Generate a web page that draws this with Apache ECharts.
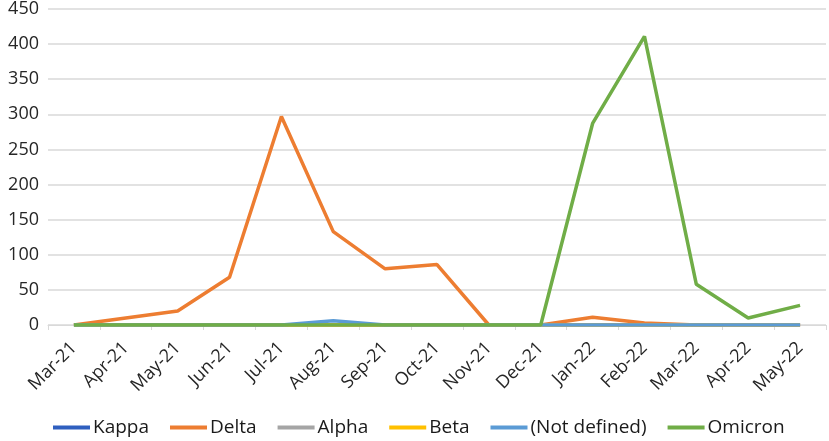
<!DOCTYPE html>
<html>
<head>
<meta charset="utf-8">
<script src="https://cdn.jsdelivr.net/npm/echarts@6/dist/echarts.min.js"></script>
<style>
html, body { margin: 0; padding: 0; background: #fff; }
#main { width: 829px; height: 441px; }
</style>
</head>
<body>
<div id="main"></div>
<script>
// months on the x axis
var months = ['Mar-21', 'Apr-21', 'May-21', 'Jun-21', 'Jul-21', 'Aug-21', 'Sep-21', 'Oct-21',
	'Nov-21', 'Dec-21', 'Jan-22', 'Feb-22', 'Mar-22', 'Apr-22', 'May-22'];

// variant counts per month
var kappa = [0, 0, 0, 0, 0, 0, 0, 0, 0, 0, 0, 0, 0, 0, 0];
var delta = [0, 10, 20, 68, 297, 133, 80, 86, 0, 0, 11, 3, 0, 0, 0];
var alpha = [0, 0, 0, 0, 0, 0, 0, 0, 0, 0, 0, 0, 0, 0, 0];
var beta = [0, 0, 0, 0, 0, 0, 0, 0, 0, 0, 0, 0, 0, 0, 0];
var notDefined = [0, 0, 0, 0, 0, 6, 0, 0, 0, 0, 0, 0, 0, 0, 0];
var omicron = [0, 0, 0, 0, 0, 0, 0, 0, 0, 0, 287, 411, 58, 10, 28];

var seriesNames = ['Kappa', 'Delta', 'Alpha', 'Beta', '(Not defined)', 'Omicron'];
var seriesColors = ['#2f5fbf', '#ed7d31', '#a5a5a5', '#ffc000', '#5b9bd5', '#70ad47'];
var seriesValues = [kappa, delta, alpha, beta, notDefined, omicron];

var font = '"Open Sans", "Noto Sans", sans-serif';

var series = [];
for (var i = 0; i < seriesNames.length; i++) {
	series.push({
		name: seriesNames[i],
		type: 'line',
		data: seriesValues[i],
		showSymbol: false,
		symbol: 'none',
		lineStyle: { width: 3.5, color: seriesColors[i] },
		itemStyle: { color: seriesColors[i] },
		z: 2 + i
	});
}

var myChart = echarts.init(document.getElementById('main'));
var option = {
	animation: false,
	color: seriesColors,
	grid: { left: 48, right: 3, top: 9, bottom: 116, containLabel: false },
	legend: {
		data: seriesNames,
		left: 48,
		top: 413,
		icon: 'rect',
		itemWidth: 37,
		itemHeight: 4,
		itemGap: 21,
		textStyle: { fontFamily: font, fontSize: 19, color: '#1a1a1a', padding: [0, 0, 0, -2] }
	},
	xAxis: {
		type: 'category',
		data: months,
		boundaryGap: true,
		axisLine: { lineStyle: { color: '#d9d9d9', width: 1 } },
		axisTick: { show: true, length: 5, lineStyle: { color: '#d9d9d9' } },
		axisLabel: {
			interval: 0,
			rotate: 45,
			margin: 20,
			fontFamily: font,
			fontSize: 18,
			color: '#262626'
		},
		splitLine: { show: false }
	},
	yAxis: {
		type: 'value',
		min: 0,
		max: 450,
		interval: 50,
		axisLine: { show: false },
		axisTick: { show: false },
		axisLabel: { margin: 9, fontFamily: font, fontSize: 18, color: '#262626' },
		splitLine: { lineStyle: { color: '#d9d9d9', width: 1.5 } }
	},
	series: series
};
myChart.setOption(option);
</script>
</body>
</html>
